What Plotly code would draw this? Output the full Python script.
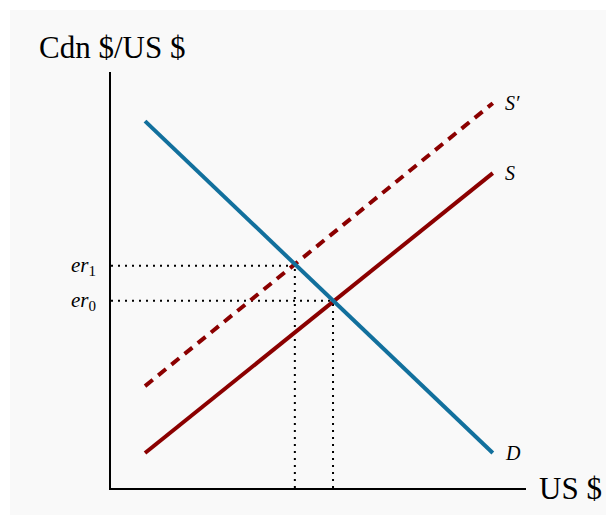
import plotly.graph_objects as go

# curve end points (x in US $, y in Cdn $/US $)
x_ends = [0.82, 9.2]
demand_y = [8.82, 0.84]
supply_y = [0.84, 7.57]
supply_new_y = [2.45, 9.25]

# equilibria
q0, er0 = 5.35, 4.5
q1, er1 = 4.43, 5.34

curve_labels = ["<i>S′</i>", "<i>S</i>", "<i>D</i>"]
rate_labels = ["<i>er</i><sub><span style='font-size:15px'>1</span></sub>",
               "<i>er</i><sub><span style='font-size:15px'>0</span></sub>"]

blue = "#12709d"
red = "#8b0000"
dots = dict(color="black", width=2, dash="2px,5px")

fig = go.Figure()

# guide lines to the axes
for q, er in [(q1, er1), (q0, er0)]:
    fig.add_trace(go.Scatter(x=[0, q], y=[er, er], mode="lines", line=dots, hoverinfo="skip"))
    fig.add_trace(go.Scatter(x=[q, q], y=[0, er], mode="lines", line=dots, hoverinfo="skip"))

fig.add_trace(go.Scatter(x=x_ends, y=supply_new_y, mode="lines",
                         line=dict(color=red, width=4, dash="10px,7px")))
fig.add_trace(go.Scatter(x=x_ends, y=supply_y, mode="lines", line=dict(color=red, width=4)))
fig.add_trace(go.Scatter(x=x_ends, y=demand_y, mode="lines", line=dict(color=blue, width=4)))

serif = "Liberation Serif"
ann = []
for lab, y in zip(curve_labels, [supply_new_y[1], supply_y[1], demand_y[1]]):
    ann.append(dict(x=x_ends[1], y=y, text=lab, showarrow=False, xanchor="left",
                    xshift=10, font=dict(family=serif, size=20, color="black")))
for lab, y in zip(rate_labels, [er1, er0]):
    ann.append(dict(x=0, y=y, text=lab, showarrow=False, xanchor="right",
                    xshift=-13, font=dict(family=serif, size=21, color="black")))
ann.append(dict(xref="paper", yref="paper", x=-0.178, y=1.06, text="Cdn $/US $",
                showarrow=False, xanchor="left", yanchor="middle",
                font=dict(family=serif, size=31, color="black")))
ann.append(dict(xref="paper", yref="paper", x=1.027, y=0, text="US $",
                showarrow=False, xanchor="left", yanchor="middle",
                font=dict(family=serif, size=31, color="black")))

fig.update_layout(
    width=606, height=507,
    margin=dict(l=103, r=88, t=64, b=27),
    paper_bgcolor="white",
    plot_bgcolor="rgba(0,0,0,0)",
    showlegend=False,
    annotations=ann,
    shapes=[dict(type="rect", xref="paper", yref="paper", x0=-0.2434, x1=1.22,
                 y0=-0.07, y1=1.149, fillcolor="#f9f9f9", line=dict(width=0), layer="below")],
    xaxis=dict(range=[0, 10], showgrid=False, zeroline=False, showticklabels=False,
               ticks="", showline=True, linecolor="black", linewidth=2),
    yaxis=dict(range=[0, 10], showgrid=False, zeroline=False, showticklabels=False,
               ticks="", showline=True, linecolor="black", linewidth=2),
)

fig.write_html("out.html")
